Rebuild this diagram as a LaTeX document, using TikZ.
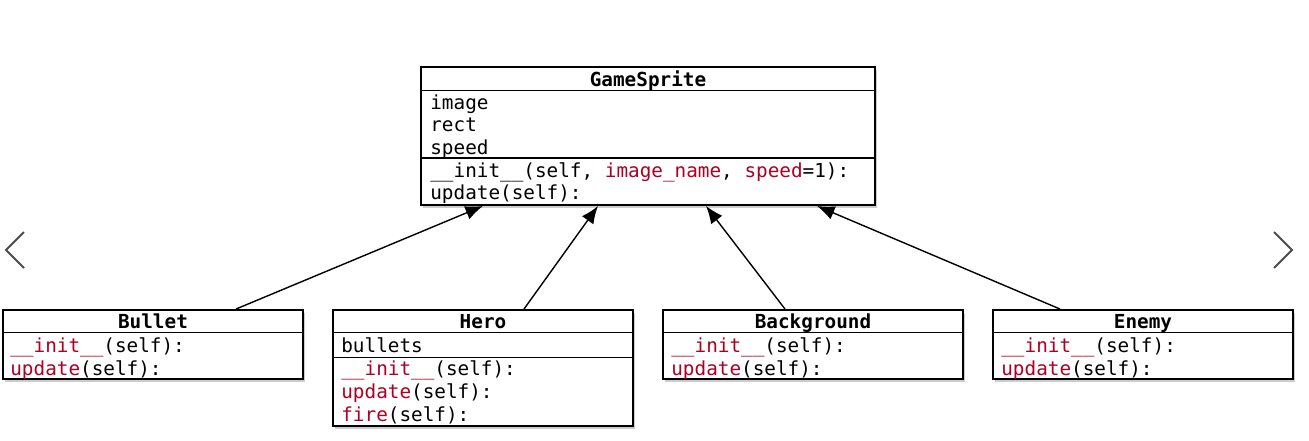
\documentclass[tikz,border=0pt]{standalone}
\usepackage{fontspec}
\setmonofont{DejaVu Sans Mono}
\usetikzlibrary{arrows.meta,shadows}
\definecolor{codered}{RGB}{172,0,36}
\newcommand{\kw}[1]{\textcolor{codered}{#1}}

\begin{document}
\begin{tikzpicture}[
    x=0.02cm, y=-0.02cm,
    classbox/.style={draw, line width=1.1pt, fill=white, inner sep=0pt,
                     minimum width=6cm,
                     drop shadow={shadow xshift=1.2pt, shadow yshift=-1.8pt,
                                  opacity=0.4}},
    sep/.style={line width=1pt},
    title/.style={anchor=base, inner sep=0pt,
                  font=\ttfamily\bfseries\fontsize{11}{13}\selectfont},
    member/.style={anchor=base west, inner sep=0pt,
                   font=\ttfamily\fontsize{11}{13}\selectfont},
    inherit/.style={-{Latex[length=10pt, width=8pt]}, line width=0.8pt},
    nav/.style={line width=1.1pt, draw=black!70},
]
    \useasboundingbox (0,0) rectangle (1309,440);

    % base class
    \node[classbox, minimum width=9.08cm, minimum height=2.76cm]
        (gamesprite) at (648,136) {};
    \draw[sep] ([yshift=-0.49cm]gamesprite.north west)
        -- ([yshift=-0.49cm]gamesprite.north east);
    \draw[sep] ([yshift=-1.84cm]gamesprite.north west)
        -- ([yshift=-1.84cm]gamesprite.north east);
    \node[title] (gamesprite-name) at (648,86) {GameSprite};
    \node[member] (gamesprite-image) at (430,109) {image};
    \node[member] (gamesprite-rect) at (430,131.5) {rect};
    \node[member] (gamesprite-speed) at (430,154) {speed};
    \node[member] (gamesprite-init) at (430,177)
        {\_\_init\_\_(self, \kw{image\_name}, \kw{speed}=1):};
    \node[member] (gamesprite-update) at (430,199.5) {update(self):};

    % sub classes
    \node[classbox, minimum height=1.38cm] (bullet) at (153,344.5) {};
    \draw[sep] ([yshift=-0.47cm]bullet.north west)
        -- ([yshift=-0.47cm]bullet.north east);
    \node[title] (bullet-name) at (153,328) {Bullet};
    \node[member] (bullet-init) at (10,352.5) {\kw{\_\_init\_\_}(self):};
    \node[member] (bullet-update) at (10,375) {\kw{update}(self):};

    \node[classbox, minimum height=2.32cm] (hero) at (483,368) {};
    \draw[sep] ([yshift=-0.47cm]hero.north west)
        -- ([yshift=-0.47cm]hero.north east);
    \draw[sep] ([yshift=-0.97cm]hero.north west)
        -- ([yshift=-0.97cm]hero.north east);
    \node[title] (hero-name) at (483,328) {Hero};
    \node[member] (hero-bullets) at (341,352.5) {bullets};
    \node[member] (hero-init) at (341,375.5) {\kw{\_\_init\_\_}(self):};
    \node[member] (hero-update) at (341,398.5) {\kw{update}(self):};
    \node[member] (hero-fire) at (341,421.5) {\kw{fire}(self):};

    \node[classbox, minimum height=1.38cm] (background) at (813,344.5) {};
    \draw[sep] ([yshift=-0.47cm]background.north west)
        -- ([yshift=-0.47cm]background.north east);
    \node[title] (background-name) at (813,328) {Background};
    \node[member] (background-init) at (671,352.5) {\kw{\_\_init\_\_}(self):};
    \node[member] (background-update) at (671,375) {\kw{update}(self):};

    \node[classbox, minimum height=1.38cm] (enemy) at (1143,344.5) {};
    \draw[sep] ([yshift=-0.47cm]enemy.north west)
        -- ([yshift=-0.47cm]enemy.north east);
    \node[title] (enemy-name) at (1143,328) {Enemy};
    \node[member] (enemy-init) at (1001,352.5) {\kw{\_\_init\_\_}(self):};
    \node[member] (enemy-update) at (1001,375) {\kw{update}(self):};

    % inheritance
    \draw[inherit] ([xshift=1.66cm]bullet.north)
        -- ([xshift=-3.3cm]gamesprite.south);
    \draw[inherit] ([xshift=0.82cm]hero.north)
        -- ([xshift=-1cm]gamesprite.south);
    \draw[inherit] ([xshift=-0.56cm]background.north)
        -- ([xshift=1.16cm]gamesprite.south);
    \draw[inherit] ([xshift=-1.66cm]enemy.north)
        -- ([xshift=3.38cm]gamesprite.south);

    % slide arrows
    \draw[nav] (24,232) -- (6,250) -- (24,268);
    \draw[nav] (1274,232) -- (1292,250) -- (1274,268);
\end{tikzpicture}
\end{document}
